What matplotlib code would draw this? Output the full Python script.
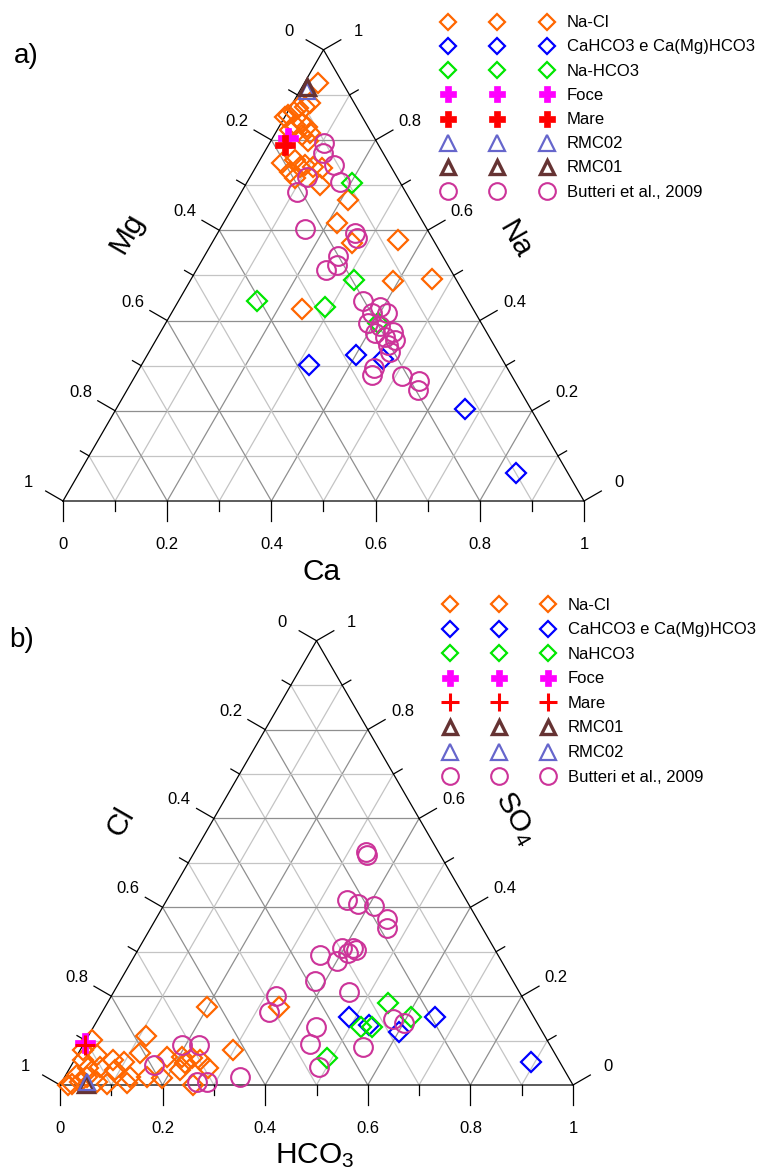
import numpy as np
import matplotlib
matplotlib.use('Agg')
import matplotlib.pyplot as plt

plt.rcParams['font.family'] = ['Liberation Sans', 'DejaVu Sans']
plt.rcParams['mathtext.fontset'] = 'custom'
plt.rcParams['mathtext.rm'] = 'Liberation Sans'
plt.rcParams['mathtext.it'] = 'Liberation Sans:italic'
plt.rcParams['mathtext.default'] = 'rm'

# ---------------- Panel a) cations : (Ca, Na) fractions, Mg = 1 - Ca - Na
a_nacl_ca = [0.027, 0.033, 0.028, 0.016, 0.011, 0.004, 0.002, 0.040, 0.028, 0.053,
             0.024, 0.066, 0.052, 0.072, 0.045, 0.067, 0.092, 0.110, 0.071, 0.085,
             0.128, 0.143, 0.087, 0.214, 0.217, 0.268, 0.354, 0.390, 0.463, 0.245]
a_nacl_na = [0.926, 0.882, 0.874, 0.871, 0.863, 0.856, 0.850, 0.837, 0.834, 0.830,
             0.823, 0.815, 0.812, 0.797, 0.749, 0.756, 0.745, 0.741, 0.730, 0.741,
             0.738, 0.701, 0.716, 0.667, 0.617, 0.572, 0.579, 0.488, 0.492, 0.426]
a_cahco3_ca = [0.321, 0.400, 0.456, 0.670, 0.838]
a_cahco3_na = [0.302, 0.324, 0.315, 0.204, 0.063]
a_nahco3_ca = [0.202, 0.314, 0.288, 0.151, 0.408]
a_nahco3_na = [0.704, 0.490, 0.431, 0.444, 0.394]
a_foce_ca, a_foce_na = [0.030], [0.804]
a_mare_ca, a_mare_na = [0.032], [0.789]
a_rmc02_ca, a_rmc02_na = [0.013], [0.909]
a_rmc01_ca, a_rmc01_na = [0.009], [0.918]
a_butteri_ca = [0.105, 0.114, 0.148, 0.178, 0.109, 0.107, 0.164, 0.264, 0.273, 0.256,
                0.265, 0.249, 0.354, 0.393, 0.413, 0.385, 0.389, 0.415, 0.446, 0.413,
                0.436, 0.451, 0.462, 0.449, 0.453, 0.512, 0.550, 0.559, 0.459]
a_butteri_na = [0.793, 0.771, 0.745, 0.708, 0.717, 0.684, 0.602, 0.594, 0.583, 0.542,
                0.523, 0.512, 0.444, 0.431, 0.416, 0.416, 0.394, 0.387, 0.375, 0.372,
                0.364, 0.346, 0.331, 0.294, 0.279, 0.276, 0.265, 0.246, 0.357]

# ---------------- Panel b) anions : (HCO3, SO4) fractions, Cl = 1 - HCO3 - SO4
b_nacl_hco3 = [0.198, 0.112, 0.011, 0.298, 0.039, 0.017, 0.076, 0.099, 0.120, 0.176,
               0.205, 0.227, 0.245, 0.270, 0.217, 0.191, 0.160, 0.127, 0.128, 0.091,
               0.058, 0.036, 0.043, 0.035, 0.022, 0.260, 0.219, 0.006, 0.338, 0.016,
               0.021, 0.090, 0.068]
b_nacl_so4 = [0.176, 0.110, 0.101, 0.079, 0.068, 0.056, 0.056, 0.052, 0.071, 0.064,
              0.064, 0.060, 0.056, 0.038, 0.034, 0.015, 0.019, 0.019, 0.005, 0.003,
              0.041, 0.038, 0.019, 0.007, 0.002, 0.000, 0.050, 0.079, 0.176, 0.000,
              0.023, 0.034, 0.007]
b_cahco3_hco3 = [0.487, 0.534, 0.602, 0.655, 0.893]
b_cahco3_so4 = [0.152, 0.135, 0.119, 0.152, 0.052]
b_nahco3_hco3 = [0.547, 0.607, 0.521, 0.542, 0.491]
b_nahco3_so4 = [0.184, 0.154, 0.131, 0.131, 0.060]
b_foce_hco3, b_foce_so4 = [0.002], [0.094]
b_mare_hco3, b_mare_so4 = [0.005], [0.089]
b_rmc01_hco3, b_rmc01_so4 = [0.049], [0.003]
b_rmc02_hco3, b_rmc02_so4 = [0.050], [0.006]
b_butteri_hco3 = [0.192, 0.227, 0.161, 0.263, 0.283, 0.342, 0.321, 0.324, 0.334, 0.339,
                  0.351, 0.378, 0.410, 0.450, 0.461, 0.395, 0.418, 0.414, 0.425, 0.361,
                  0.401, 0.380, 0.458, 0.434, 0.441, 0.548, 0.575, 0.601, 0.485]
b_butteri_so4 = [0.090, 0.089, 0.045, 0.007, 0.007, 0.019, 0.201, 0.165, 0.525, 0.518,
                 0.416, 0.407, 0.404, 0.373, 0.353, 0.308, 0.308, 0.296, 0.304, 0.293,
                 0.278, 0.234, 0.209, 0.131, 0.092, 0.085, 0.149, 0.139, 0.041]

tick_values = [0, 0.2, 0.4, 0.6, 0.8, 1]
tick_labels = ['0', '0.2', '0.4', '0.6', '0.8', '1']

legend_a = ['Na-Cl', 'CaHCO3 e Ca(Mg)HCO3', 'Na-HCO3', 'Foce', 'Mare', 'RMC02', 'RMC01',
            'Butteri et al., 2009']
legend_b = ['Na-Cl', 'CaHCO3 e Ca(Mg)HCO3', 'NaHCO3', 'Foce', 'Mare', 'RMC01', 'RMC02',
            'Butteri et al., 2009']

# ---------------- styles
ORANGE, BLUE, GREEN = '#FF6600', '#0000FF', '#00E600'
MAGENTA, RED = '#FF00FF', '#FF0000'
RMC02C, RMC01C, BUTC = '#6666CC', '#663333', '#CC3399'

STY = {
    'nacl':   dict(marker='D', mfc='none', mec=ORANGE, mew=1.6, ms=10, lms=8.5),
    'cahco3': dict(marker='D', mfc='none', mec=BLUE, mew=1.6, ms=10, lms=8.5),
    'nahco3': dict(marker='D', mfc='none', mec=GREEN, mew=1.6, ms=10, lms=8.5),
    'foce':   dict(marker='P', mfc=MAGENTA, mec=MAGENTA, mew=0.5, ms=15, lms=12),
    'mareP':  dict(marker='P', mfc=RED, mec=RED, mew=0.5, ms=15, lms=12),
    'mare+':  dict(marker='+', mfc=RED, mec=RED, mew=2.2, ms=15, lms=13),
    'rmc02':  dict(marker='^', mfc='none', mec=RMC02C, mew=1.6, ms=12, lms=11),
    'rmc01':  dict(marker='^', mfc='none', mec=RMC01C, mew=2.4, ms=11, lms=10),
    'butteri': dict(marker='o', mfc='none', mec=BUTC, mew=1.5, ms=13.5, lms=12),
}

FIG_W, FIG_H = 765, 1171
fig = plt.figure(figsize=(FIG_W / 100, FIG_H / 100), dpi=100)
S = np.sqrt(3) / 2


def panel_axes(left_px, base_px, width_px):
    ax = fig.add_axes([0, 0, 1, 1])
    ax.set_xlim(-left_px / width_px, (FIG_W - left_px) / width_px)
    ax.set_ylim(-(FIG_H - base_px) / width_px, base_px / width_px)
    ax.axis('off')
    return ax


def tern(b, t):
    b = np.asarray(b, float)
    t = np.asarray(t, float)
    return b + t / 2, t * S


def draw_frame(ax, W):
    px = 1.0 / W
    for k in range(1, 10):
        v = k / 10
        col = '#8f8f8f' if k % 2 == 0 else '#c4c4c4'
        kw = dict(color=col, lw=0.9, zorder=1, solid_capstyle='butt')
        ax.plot([v / 2, 1 - v / 2], [v * S, v * S], **kw)
        ax.plot([v, v + (1 - v) / 2], [0, (1 - v) * S], **kw)
        ax.plot([1 - v, (1 - v) / 2], [0, (1 - v) * S], **kw)
    ax.plot([0, 1, 0.5, 0], [0, 0, S, 0], color='black', lw=0.9, zorder=2)
    dl = np.array([-S, 0.5])
    dr = np.array([S, 0.5])
    for k in range(11):
        v = k / 10
        L = (20 if k % 2 == 0 else 10) * px
        tk = dict(color='black', lw=0.9, zorder=2)
        ax.plot([v, v], [0, -L], **tk)
        p = np.array([(1 - v) / 2, (1 - v) * S])
        ax.plot([p[0], p[0] + dl[0] * L], [p[1], p[1] + dl[1] * L], **tk)
        q = np.array([1 - v / 2, v * S])
        ax.plot([q[0], q[0] + dr[0] * L], [q[1], q[1] + dr[1] * L], **tk)
    off = 6 * px
    for v, lab in zip(tick_values, tick_labels):
        ax.text(v, -42 * px - off, lab, ha='center', va='baseline', fontsize=12)
        p = np.array([(1 - v) / 2, (1 - v) * S]) + dl * 40 * px
        ax.text(p[0], p[1] - off, lab, ha='center', va='baseline', fontsize=12)
        q = np.array([1 - v / 2, v * S]) + dr * 40 * px
        ax.text(q[0], q[1] - off, lab, ha='center', va='baseline', fontsize=12)


def plot_series(ax, b, t, key, z):
    st = dict(STY[key])
    st.pop('lms')
    x, y = tern(b, t)
    ax.plot(x, y, linestyle='none', zorder=z, **st)


# ---------------- panel a
axa = panel_axes(63, 501, 521)
draw_frame(axa, 521)
plot_series(axa, a_nacl_ca, a_nacl_na, 'nacl', 3)
plot_series(axa, a_cahco3_ca, a_cahco3_na, 'cahco3', 3)
plot_series(axa, a_nahco3_ca, a_nahco3_na, 'nahco3', 3)
plot_series(axa, a_butteri_ca, a_butteri_na, 'butteri', 4)
plot_series(axa, a_foce_ca, a_foce_na, 'foce', 5)
plot_series(axa, a_mare_ca, a_mare_na, 'mareP', 6)
plot_series(axa, a_rmc02_ca, a_rmc02_na, 'rmc02', 7)
plot_series(axa, a_rmc01_ca, a_rmc01_na, 'rmc01', 8)

# ---------------- panel b
axb = panel_axes(60, 1085, 513)
draw_frame(axb, 513)
plot_series(axb, b_nacl_hco3, b_nacl_so4, 'nacl', 3)
plot_series(axb, b_cahco3_hco3, b_cahco3_so4, 'cahco3', 3)
plot_series(axb, b_nahco3_hco3, b_nahco3_so4, 'nahco3', 3)
plot_series(axb, b_butteri_hco3, b_butteri_so4, 'butteri', 4)
plot_series(axb, b_foce_hco3, b_foce_so4, 'foce', 5)
plot_series(axb, b_mare_hco3, b_mare_so4, 'mare+', 6)
plot_series(axb, b_rmc01_hco3, b_rmc01_so4, 'rmc01', 7)
plot_series(axb, b_rmc02_hco3, b_rmc02_so4, 'rmc02', 8)

# ---------------- overlay in pixel coordinates: legends and titles
ov = fig.add_axes([0, 0, 1, 1])
ov.set_xlim(0, FIG_W)
ov.set_ylim(FIG_H, 0)
ov.axis('off')


def draw_legend(keys, labels, y0, dy, cols, tx):
    for i, (key, lab) in enumerate(zip(keys, labels)):
        y = y0 + i * dy
        st = dict(STY[key])
        lms = st.pop('lms')
        st['ms'] = lms
        for cx in cols:
            ov.plot([cx], [y], linestyle='none', **st)
        ov.text(tx, y + 5.5, lab, ha='left', va='baseline', fontsize=12)


draw_legend(['nacl', 'cahco3', 'nahco3', 'foce', 'mareP', 'rmc02', 'rmc01', 'butteri'],
            legend_a, 21.7, 24.2, [448, 497, 547], 567)
draw_legend(['nacl', 'cahco3', 'nahco3', 'foce', 'mare+', 'rmc01', 'rmc02', 'butteri'],
            legend_b, 604, 24.6, [450, 499, 548], 568)

TFS = 21.5
ov.text(26, 56, 'a)', ha='center', va='center', fontsize=20)
ov.text(127, 233, 'Mg', ha='center', va='center', rotation=60, fontsize=TFS)
ov.text(515, 240, 'Na', ha='center', va='center', rotation=-60, fontsize=TFS)
ov.text(322, 572, 'Ca', ha='center', va='center', fontsize=TFS)

ov.text(22, 640, 'b)', ha='center', va='center', fontsize=20)
ov.text(121, 822, 'Cl', ha='center', va='center', rotation=60, fontsize=TFS)
ov.text(516, 818, 'SO$_4$', ha='center', va='center', rotation=-60, fontsize=TFS)
ov.text(315, 1156, 'HCO$_3$', ha='center', va='center', fontsize=TFS)

fig.savefig('out.png', dpi=100)
